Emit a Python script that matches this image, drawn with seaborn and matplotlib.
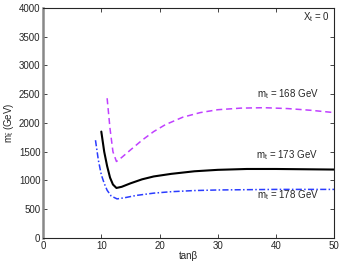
import numpy as np
import pandas as pd
import matplotlib
matplotlib.use("Agg")
import matplotlib.pyplot as plt
import seaborn as sns

# values (tanb, stop mass in GeV)
tanb_168 = [11.0, 11.5, 12.0, 12.6, 13.5, 15, 17, 19, 21, 24, 27, 30, 34, 38, 42, 46, 50]
mst_168 = [2430, 1900, 1500, 1330, 1400, 1530, 1700, 1850, 1970, 2100, 2180, 2230, 2258, 2265, 2250, 2220, 2180]

tanb_173 = [10.0, 10.5, 11.0, 11.5, 12.0, 12.6, 13.5, 15, 17, 19, 22, 26, 30, 35, 40, 45, 50]
mst_173 = [1850, 1500, 1250, 1050, 930, 870, 890, 950, 1020, 1070, 1115, 1160, 1185, 1200, 1200, 1195, 1190]

tanb_178 = [9.0, 9.5, 10.0, 10.5, 11.0, 11.7, 12.7, 14, 16, 19, 22, 26, 30, 35, 40, 50]
mst_178 = [1700, 1350, 1100, 950, 830, 730, 680, 700, 740, 780, 805, 825, 835, 840, 845, 845]

labels = ["m$_{\\rm t}$ = 168 GeV", "m$_{\\rm t}$ = 173 GeV", "m$_{\\rm t}$ = 178 GeV"]

sns.set_style("ticks")
plt.rcParams["font.family"] = ["Liberation Sans", "DejaVu Sans"]
plt.rcParams["mathtext.fontset"] = "custom"
plt.rcParams["mathtext.rm"] = "Liberation Sans"
plt.rcParams["mathtext.it"] = "Liberation Sans"

fig = plt.figure(figsize=(3.42, 2.63), dpi=100)
ax = fig.add_axes([0.126, 0.095, 0.851, 0.875])

sns.lineplot(x=tanb_168, y=mst_168, ax=ax, color="#c040ff", lw=1.1)
ax.lines[-1].set_linestyle((0, (4, 2.5)))
sns.lineplot(x=tanb_173, y=mst_173, ax=ax, color="black", lw=1.5)
sns.lineplot(x=tanb_178, y=mst_178, ax=ax, color="#2a3cff", lw=1.1)
ax.lines[-1].set_linestyle((0, (4, 1.5, 1, 1.5)))

ax.set_xlim(0, 50)
ax.set_ylim(0, 4000)
ax.set_xticks(np.arange(0, 51, 10))
ax.set_yticks(np.arange(0, 4001, 500))
ax.tick_params(direction="in", length=3, width=0.6, labelsize=7, pad=2,
               top=True, right=True)
for s in ax.spines.values():
    s.set_linewidth(0.8)
    s.set_visible(True)
ax.spines["left"].set_color("#888888")
ax.spines["left"].set_linewidth(1.8)

ax.set_xlabel("tan\u03b2", fontsize=7, labelpad=0)
ax.set_ylabel("m$_{\\tilde{\\rm t}}$ (GeV)", fontsize=7, labelpad=2)

ax.text(36.8, 2450, labels[0], fontsize=7)
ax.text(36.6, 1390, labels[1], fontsize=7)
ax.text(36.8, 700, labels[2], fontsize=7)
ax.text(44.7, 3780, "X$_{\\rm t}$ = 0", fontsize=7)

fig.savefig("out.png", dpi=100)
